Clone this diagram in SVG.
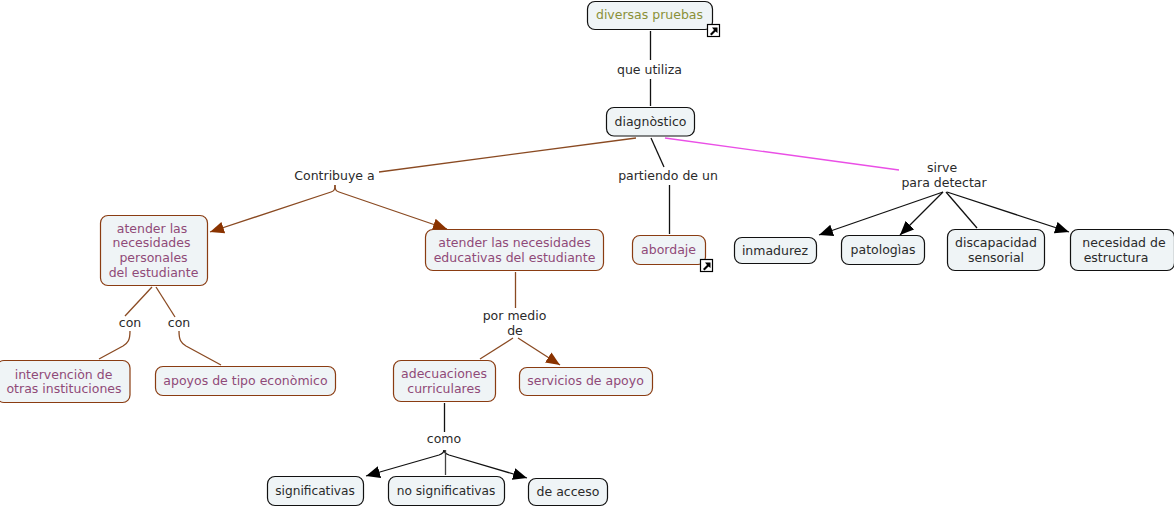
<svg xmlns="http://www.w3.org/2000/svg" width="1174" height="508" viewBox="0 0 1174 508">
<style>
text{font-family:"DejaVu Sans",Verdana,sans-serif;font-size:12.5px;text-anchor:middle;fill:#2a2a2a}
text.n{font-size:12.2px}
.b{fill:#eff4f6;stroke:#111;stroke-width:1.2}
.r{fill:#eff4f6;stroke:#8a3c12;stroke-width:1.2}
text.m{fill:#8f4a78}
text.o{fill:#8a9038}
#connectors path{fill:none;stroke-width:1.3}
#connectors .k{stroke:#111}
#connectors .w{stroke:#8a4a22}
#connectors .p{stroke:#ea4fe6}
#connectors .ka{stroke:#111;marker-end:url(#ak)}
#connectors .wa{stroke:#8a4a22;marker-end:url(#ar)}
</style>
<defs>
<marker id="ak" markerUnits="userSpaceOnUse" markerWidth="15" markerHeight="13" refX="14" refY="6" orient="auto"><path d="M0 0L14 6L0 12Z" fill="#000"/></marker>
<marker id="ar" markerUnits="userSpaceOnUse" markerWidth="15" markerHeight="13" refX="14" refY="6" orient="auto"><path d="M0 0L14 6L0 12Z" fill="#8a3300"/></marker>
<g id="ic"><rect x=".5" y=".5" width="12" height="12" fill="#fff" stroke="#000" stroke-width="1.2"/><path d="M3 10L7 6L5 3.500H10.500V9L8.500 7.500L4.500 11.500Z" fill="#000"/></g>
</defs>
<g id="connectors">
<path class="k" d="M650.500 31V60M650.500 79V106"/>
<path class="w" d="M636 138L379 172"/>
<path class="k" d="M651 138L664 167"/>
<path class="k" d="M669.500 185V234"/>
<path class="p" d="M665 138L899 170"/>
<path class="wa" d="M335 185C335 190 334 191 331 192L210 232"/>
<path class="wa" d="M335 185C335 190 336 191 339 192L447 229"/>
<path class="w" d="M152 287L125 316"/>
<path class="w" d="M156 287L175 317"/>
<path class="w" d="M130 331C130 340 128 343 123 346L99 359"/>
<path class="w" d="M179 331C179 340 181 343 186 346L221 365"/>
<path class="w" d="M515.500 272V308"/>
<path class="w" d="M513 338L480 359"/>
<path class="wa" d="M518 338L560 365"/>
<path class="k" d="M444.500 403V432"/>
<path class="ka" d="M444 450C444 453 442 454 439 455L366 476"/>
<path class="ka" d="M444 450C444 453 446 454 449 455L527 478"/>
<path d="M445.500 450V475" style="stroke:#444"/>
<path class="ka" d="M943 192L819 235"/>
<path class="ka" d="M943 192L900 235"/>
<path class="k" d="M946 192L977 228"/>
<path class="ka" d="M947 192L1069 232"/>
</g>
<g id="n1"><rect class="b" x="587.500" y="1.500" width="125" height="28" rx="7.500"/><text class="o" x="649.500" y="19">diversas pruebas</text><use href="#ic" x="707" y="24"/></g>
<g id="n2"><rect class="b" x="606.500" y="107.500" width="88" height="28.500" rx="7.500"/><text x="650.500" y="126">diagnòstico</text></g>
<g id="n3"><rect class="r" x="100.500" y="215.500" width="107" height="70" rx="7.500"/><text class="m" x="152" y="233">atender las</text><text class="m" x="151.500" y="247">necesidades</text><text class="m" x="153.500" y="262">personales</text><text class="m" x="153.500" y="277">del estudiante</text></g>
<g id="n4"><rect class="r" x="425.500" y="229.500" width="178" height="41" rx="7.500"/><text class="m" x="514.500" y="247">atender las necesidades</text><text class="m" x="514.500" y="262">educativas del estudiante</text></g>
<g id="n5"><rect class="r" x="632.500" y="235.500" width="73" height="29" rx="7.500"/><text class="m" x="668.500" y="254">abordaje</text><use href="#ic" x="700" y="259"/></g>
<g id="n6"><rect class="b" x="734.500" y="237.500" width="82" height="26" rx="7.500"/><text x="775" y="255">inmadurez</text></g>
<g id="n7"><rect class="b" x="841.500" y="235.500" width="83" height="29" rx="7.500"/><text x="883" y="254">patologìas</text></g>
<g id="n8"><rect class="b" x="947.500" y="229.500" width="97" height="41" rx="7.500"/><text x="996" y="247">discapacidad</text><text x="996" y="262">sensorial</text></g>
<g id="n9"><rect class="b" x="1070.500" y="229.500" width="104" height="41" rx="7.500"/><text x="1124" y="247">necesidad de</text><text x="1116" y="262">estructura</text></g>
<g id="n10"><rect class="r" x="-3.500" y="360.500" width="133.500" height="42" rx="7.500"/><text class="m" x="63.500" y="379">intervenciòn de</text><text class="m" x="64" y="393">otras instituciones</text></g>
<g id="n11"><rect class="r" x="155.500" y="366.500" width="180" height="29" rx="7.500"/><text class="m" x="245.500" y="385">apoyos de tipo econòmico</text></g>
<g id="n12"><rect class="r" x="393.500" y="360.500" width="102" height="41" rx="7.500"/><text class="m" x="444" y="378">adecuaciones</text><text class="m" x="444" y="393">curriculares</text></g>
<g id="n13"><rect class="r" x="519.500" y="367.500" width="133" height="28" rx="7.500"/><text class="m" x="585.500" y="385">servicios de apoyo</text></g>
<g id="n14"><rect class="b" x="267.500" y="476.500" width="96" height="29" rx="7.500"/><text class="n" x="315" y="495">significativas</text></g>
<g id="n15"><rect class="b" x="388.500" y="476.500" width="116" height="29" rx="7.500"/><text class="n" x="446" y="495">no significativas</text></g>
<g id="n16"><rect class="b" x="528.500" y="478.500" width="79" height="27" rx="7.500"/><text x="568" y="496">de acceso</text></g>
<g id="labels">
<text x="649.500" y="74">que utiliza</text>
<text x="334.500" y="180">Contribuye a</text>
<text x="668" y="180">partiendo de un</text>
<text x="942" y="172">sirve</text><text x="944" y="187">para detectar</text>
<text x="130" y="327">con</text><text x="179" y="327">con</text>
<text x="514.500" y="320">por medio</text><text x="515" y="335">de</text>
<text x="444" y="443">como</text>
</g>
</svg>
